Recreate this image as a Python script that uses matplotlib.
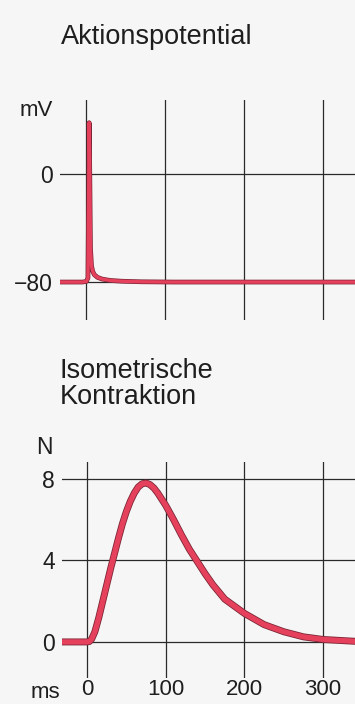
import numpy as np
import matplotlib.pyplot as plt
import matplotlib.patheffects as pe

plt.rcParams['font.family'] = ['Liberation Sans', 'DejaVu Sans']

# action potential (ms, mV)
ap_t = [-34, -5, 0, 2, 2.8, 3.5, 4.3, 5.2, 6.5, 8, 10, 14, 20, 30, 45, 70, 110, 341]
ap_v = [-80, -80, -79.5, -77, -20, 38, 0, -55, -68, -72, -74.5, -76.5, -77.8, -78.8, -79.4, -79.8, -80, -80]

# isometric twitch (ms, N)
tw_t = [-34, 0, 3, 6, 10, 15, 20, 25, 30, 35, 40, 45, 50, 55, 60, 65, 70, 75, 80, 85, 90, 95,
        100, 110, 120, 130, 140, 150, 160, 175, 200, 225, 250, 275, 300, 341]
tw_f = [0, 0, 0.02, 0.15, 0.5, 1.2, 2.0, 2.8, 3.6, 4.35, 5.1, 5.8, 6.4, 6.9, 7.3, 7.6, 7.76, 7.8,
        7.72, 7.55, 7.3, 7.0, 6.7, 6.0, 5.25, 4.55, 3.95, 3.35, 2.8, 2.1, 1.4, 0.85, 0.5, 0.25, 0.12, 0.03]

ap_yticks = [-80, 0]
ap_ylabels = ['\u221280', '0']
tw_yticks = [0, 4, 8]
x_ticks = [0, 100, 200, 300]

W, H = 355, 704
bg = '#f6f6f6'
red = '#e6415c'
edge = '#7c2636'
grid = '#2a2a2a'
ink = '#1e1e1e'

fig = plt.figure(figsize=(W / 100, H / 100), dpi=100, facecolor=bg)


def make_ax(left, top, bottom):
    ax = fig.add_axes([left / W, 1 - bottom / H, (W - left) / W, (bottom - top) / H])
    ax.set_facecolor(bg)
    for s in ax.spines.values():
        s.set_visible(False)
    ax.tick_params(length=0, labelsize=16.5, colors=ink)
    return ax


# top panel
ax1 = make_ax(60, 100, 320)
ax1.set_xlim(-33.5, 341)
ax1.set_ylim(-108.1, 54.8)
for x in x_ticks:
    ax1.axvline(x, color=grid, lw=0.9)
for y in ap_yticks:
    ax1.axhline(y, color=grid, lw=0.9)
ax1.plot(ap_t, ap_v, color=red, lw=2.4, solid_joinstyle='round',
         path_effects=[pe.Stroke(linewidth=3.4, foreground=edge), pe.Normal()])
ax1.set_yticks(ap_yticks, ap_ylabels)
ax1.tick_params(axis='y', pad=5)
ax1.set_xticks([])
fig.text(61 / W, 1 - 37 / H, 'Aktionspotential', fontsize=19.5, va='center', ha='left', color=ink)
fig.text(53 / W, 1 - 110 / H, 'mV', fontsize=16, va='center', ha='right', color=ink)

# bottom panel
ax2 = make_ax(62, 462, 678)
ax2.set_xlim(-31.8, 340.5)
ax2.set_ylim(-1.77, 8.83)
for x in x_ticks:
    ax2.axvline(x, color=grid, lw=0.9)
for y in tw_yticks:
    ax2.axhline(y, color=grid, lw=0.9)
ax2.plot(tw_t, tw_f, color=red, lw=3.8, solid_joinstyle='round', solid_capstyle='round',
         path_effects=[pe.Stroke(linewidth=5.0, foreground=edge), pe.Normal()])
ax2.set_yticks(tw_yticks, [str(v) for v in tw_yticks])
ax2.tick_params(axis='y', pad=5)
ax2.set_xticks(x_ticks, [str(v) for v in x_ticks])
ax2.tick_params(axis='x', pad=1, labelsize=16)
fig.text(60 / W, 1 - 384 / H, 'Isometrische\nKontraktion', fontsize=19.5, va='center', ha='left',
         color=ink, linespacing=1.0)
fig.text(53 / W, 1 - 448 / H, 'N', fontsize=16.5, va='center', ha='right', color=ink)
fig.text(60 / W, 1 - 692 / H, 'ms', fontsize=16, va='center', ha='right', color=ink)

fig.savefig('out.png', dpi=100, facecolor=bg)
